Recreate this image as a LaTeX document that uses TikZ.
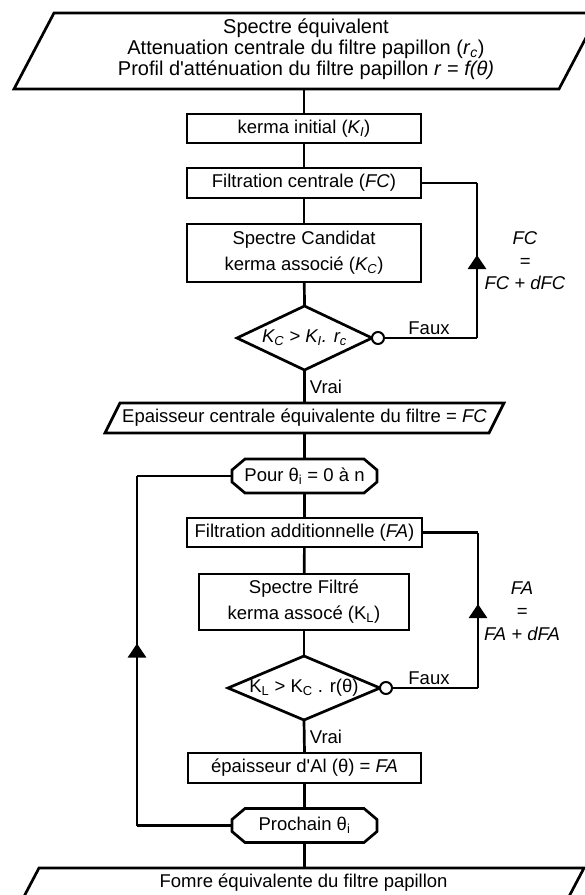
\documentclass[tikz,border=0pt]{standalone}
\usepackage{fontspec}
\setmainfont{Liberation Sans}
\usetikzlibrary{arrows.meta,decorations.markings}
\newcommand\paradraw[2]{\draw ([xshift=#2]#1.north west) -- ([xshift=#2]#1.north east) -- ([xshift=-#2]#1.south east) -- ([xshift=-#2]#1.south west) -- cycle;}
\newcommand\diadraw[1]{\draw (#1.north) -- (#1.east) -- (#1.south) -- (#1.west) -- cycle;}
\newcommand\octdraw[1]{\draw ([xshift=13pt]#1.north west) -- ([xshift=-13pt]#1.north east) -- ([yshift=-11pt]#1.north east) -- ([yshift=11pt]#1.south east) -- ([xshift=-13pt]#1.south east) -- ([xshift=13pt]#1.south west) -- ([yshift=11pt]#1.south west) -- ([yshift=-11pt]#1.north west) -- cycle;}
\begin{document}
\begin{tikzpicture}[x=1pt,y=-1pt,line width=2.7pt,line join=miter,
  every node/.style={font=\fontsize{18.5}{22}\selectfont,inner sep=0pt,outer sep=0pt},
  proc/.style n args={2}{draw,rectangle,minimum width=#1,minimum height=#2,align=center},
  hid/.style n args={2}{rectangle,minimum width=#1,minimum height=#2,align=center},
  circ/.style={draw,circle,fill=white,minimum size=12pt,line width=2pt},
  lab/.style={align=center},
  upmark/.style={postaction={decorate},decoration={markings,mark=at position #1 with {\arrow{Triangle[width=18pt,length=14pt]}}}}
]
\clip (0,0) rectangle (585,895);
\useasboundingbox (0,0) rectangle (585,895);
% top parallelogram
\node[hid={545pt}{76pt}] (top) at (306.5,51) {};
\paradraw{top}{20pt}
\node[lab,font=\fontsize{20}{21}\selectfont] (toptxt) at (306,49) {Spectre équivalent\\Attenuation centrale du filtre papillon (\textit{r}\textsubscript{\textit{c}})\\Profil d\textquotesingle atténuation du filtre papillon \textit{r} = \textit{f(θ)}};
\node[proc={234pt}{29pt}] (ki) at (304,128.5) {kerma initial (\textit{K\textsubscript{I}})};
\node[proc={234pt}{30pt}] (fc) at (304,183) {Filtration centrale (\textit{FC})};
\node[proc={234pt}{58pt},font=\fontsize{18.5}{26}\selectfont] (sc) at (304,253) {Spectre Candidat\\kerma associé (\textit{K\textsubscript{C}})};
\node[hid={135pt}{64pt}] (d1) at (304.5,338) {\textit{K\textsubscript{C} > K\textsubscript{I}. r\textsubscript{c}}};
\diadraw{d1}
\node[circ,anchor=west] (c1) at (d1.east) {};
\node[hid={384pt}{30pt}] (ep) at (304.5,418) {Epaisseur centrale équivalente du filtre = \textit{FC}};
\paradraw{ep}{7.5pt}
\node[hid={145pt}{34pt}] (pour) at (304.5,476) {Pour θ\textsubscript{i} = 0 à n};
\octdraw{pour}
\node[proc={235pt}{29pt}] (fa) at (304.5,532.5) {Filtration additionnelle (\textit{FA})};
\node[proc={210pt}{56pt},font=\fontsize{18.5}{26}\selectfont] (sf) at (304,602) {Spectre Filtré\\kerma assocé (K\textsubscript{L})};
\node[hid={152pt}{64pt}] (d2) at (304,688) {K\textsubscript{L} > K\textsubscript{C} . r(θ)};
\diadraw{d2}
\node[circ,anchor=west] (c2) at (d2.east) {};
\node[proc={233pt}{30pt}] (al) at (304.5,768) {épaisseur d\textquotesingle Al (θ) = \textit{FA}};
\node[hid={145pt}{34pt}] (pro) at (304.5,825.5) {Prochain θ\textsubscript{i}};
\octdraw{pro}
\node[hid={545pt}{30pt}] (bot) at (303.6,883) {Fomre équivalente du filtre papillon};
\paradraw{bot}{7.9pt}
% labels
\node (faux1) at (429,328) {Faux};
\node (faux2) at (429,678) {Faux};
\node (vrai1) at (326,387) {Vrai};
\node (vrai2) at (326,737) {Vrai};
\node[lab,font=\fontsize{18.5}{22.5}\selectfont\itshape] (fcl) at (525,261) {FC\\=\\FC + dFC};
\node[lab,font=\fontsize{18.5}{23}\selectfont\itshape] (fal) at (522,611) {FA\\=\\FA + dFA};
% loop coordinates
\coordinate (x1) at (477,0);
\coordinate (x2) at (478,0);
\coordinate (x0) at (137,0);
% main flow
\draw (ki.north) -- (ki.north |- top.south);
\draw (ki) -- (fc);
\draw (fc) -- (sc);
\draw (sc) -- (d1.north);
\draw (d1.south) -- (d1.south |- ep.north);
\draw (ep.south -| pour.north) -- (pour.north);
\draw (pour) -- (fa);
\draw (fa) -- (sf);
\draw (sf) -- (d2.north);
\draw (d2.south) -- (al.north);
\draw (al) -- (pro);
\draw (pro.south) -- (pro.south |- bot.north);
% loop 1
\draw (c1.east) -- (c1.east -| x1);
\draw[upmark=83pt] (c1.east -| x1) -- (fc.east -| x1);
\draw (fc.east -| x1) -- (fc.east);
% loop 2
\draw (c2.east) -- (c2.east -| x2);
\draw[upmark=84pt] (c2.east -| x2) -- (fa.east -| x2);
\draw (fa.east -| x2) -- (fa.east);
% outer loop
\draw (pro.west) -- (pro.west -| x0);
\draw[upmark=182pt] (pro.west -| x0) -- (pour.west -| x0);
\draw (pour.west -| x0) -- (pour.west);
\end{tikzpicture}
\end{document}
